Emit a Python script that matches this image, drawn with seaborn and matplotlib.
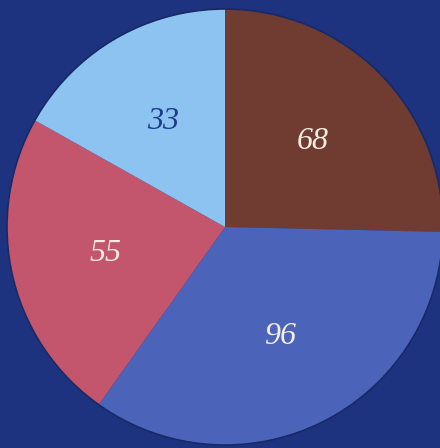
import matplotlib
matplotlib.use("Agg")
import matplotlib.pyplot as plt
import seaborn as sns

# Data (printed labels and slice shares as drawn, in degrees)
labels = ["68", "96", "55", "33"]
shares = [91.3, 124.1, 83.9, 60.7]
colors = ["#703c32", "#4b64b9", "#c3556c", "#8cc3f0"]
label_colors = ["#f5ece0", "#f5ece0", "#f5ece0", "#1f3a8c"]

sns.set_theme(style="white")
bg = "#1e3380"

fig = plt.figure(figsize=(4.4, 4.48), dpi=100, facecolor=bg)
ax = fig.add_axes([0, 0, 1, 1])
ax.set_facecolor(bg)

cx, cy, r = 225, 448 - 227, 218
palette = sns.color_palette(colors)
wedges, texts = ax.pie(
    shares,
    labels=labels,
    colors=palette,
    startangle=90,
    counterclock=False,
    center=(cx, cy),
    radius=r,
    labeldistance=0.56,
    frame=True,
    wedgeprops=dict(linewidth=0),
    textprops=dict(family="Liberation Serif", style="italic", fontsize=23,
                   ha="center", va="center"),
)
for t, c in zip(texts, label_colors):
    t.set_color(c)
    t.set_horizontalalignment("center")

rim = plt.Circle((cx, cy), r, fill=False, edgecolor="#172a66", linewidth=1.2)
ax.add_patch(rim)

ax.set_xlim(0, 440)
ax.set_ylim(0, 448)
ax.set_aspect("equal")
ax.axis("off")

fig.savefig("out.png", dpi=100, facecolor=bg)
